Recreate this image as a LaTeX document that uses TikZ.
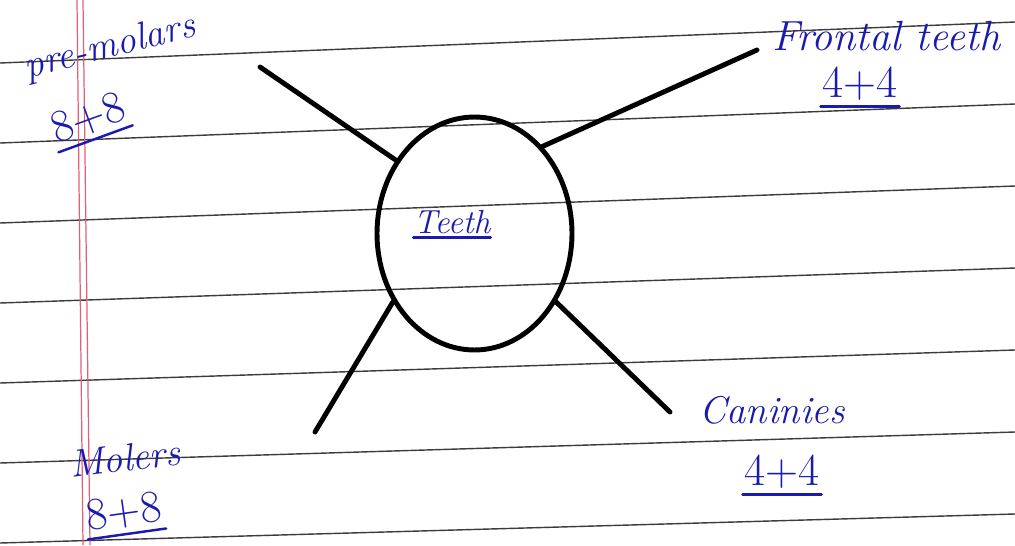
\documentclass[tikz,border=0pt]{standalone}
\usepackage{tikz}
\usetikzlibrary{shapes.geometric}
\definecolor{inkblue}{HTML}{1A1AAF}
\definecolor{rulegray}{HTML}{3C3C3C}
\definecolor{marginred}{HTML}{E0607A}

\begin{document}
\begin{tikzpicture}[x=0.02cm, y=-0.02cm,
  rule/.style={draw=rulegray, line width=0.8pt},
  margin/.style={draw=marginred, line width=0.7pt},
  hub/.style={ellipse, draw=black, line width=2.8pt, minimum width=3.9cm, minimum height=4.66cm, inner sep=0pt},
  limb/.style={draw=black, line width=2.8pt, line cap=round},
  word/.style={text=inkblue, font=\fontsize{22}{26}\selectfont\itshape, inner sep=0pt},
  count/.style={text=inkblue, font=\fontsize{26}{30}\selectfont, inner xsep=1pt, inner ysep=3pt},
  uline/.style={draw=inkblue, line width=1.4pt, line cap=round},
]
  \useasboundingbox (0,0) rectangle (1015,545);
  \clip (0,0) rectangle (1015,545);
  \fill[white] (0,0) rectangle (1015,545);

  % ruled paper
  \foreach \k in {0,...,6}
    \draw[rule] (0,{63+80*\k}) -- (1015,{22+82*\k});
  \draw[margin] (77,0) -- (83,545);
  \draw[margin] (83,0) -- (90,545);

  % centre
  \node[hub] (teeth) at (474.5,233.5) {};
  \node[word, font=\fontsize{19}{22}\selectfont\itshape, inner ysep=2pt] (teethlbl) at (452,222) {Teeth};
  \draw[uline] (teethlbl.south west) -- (teethlbl.south east);

  % free ends of the limbs
  \coordinate (pmtip) at (260,67);
  \coordinate (fttip) at (757,50);
  \coordinate (motip) at (315,432);
  \coordinate (catip) at (670,412);

  \draw[limb] (teeth.137) -- (pmtip);
  \draw[limb] (teeth.52) -- (fttip);
  \draw[limb] (teeth.220) -- (motip);
  \draw[limb] (teeth.320) -- (catip);

  % labels
  \node[word, rotate=14] (pmword) at (110,48) {pre-molars};
  \node[count, rotate=20] (pmnum) at (88,118) {8+8};
  \draw[uline] (pmnum.south west) -- (pmnum.south east);

  \node[word, anchor=west, font=\fontsize{24}{28}\selectfont\itshape] (ftword) at (772,36) {Frontal teeth};
  \node[count] (ftnum) at (860,84) {4+4};
  \draw[uline] (ftnum.south west) -- (ftnum.south east);

  \node[word, rotate=7] (moword) at (125,458) {Molers};
  \node[count, rotate=8] (monum) at (124,512) {8+8};
  \draw[uline] (monum.south west) -- (monum.south east);

  \node[word] (caword) at (772,410) {Caninies};
  \node[count] (canum) at (782,472) {4+4};
  \draw[uline] (canum.south west) -- (canum.south east);
\end{tikzpicture}
\end{document}
